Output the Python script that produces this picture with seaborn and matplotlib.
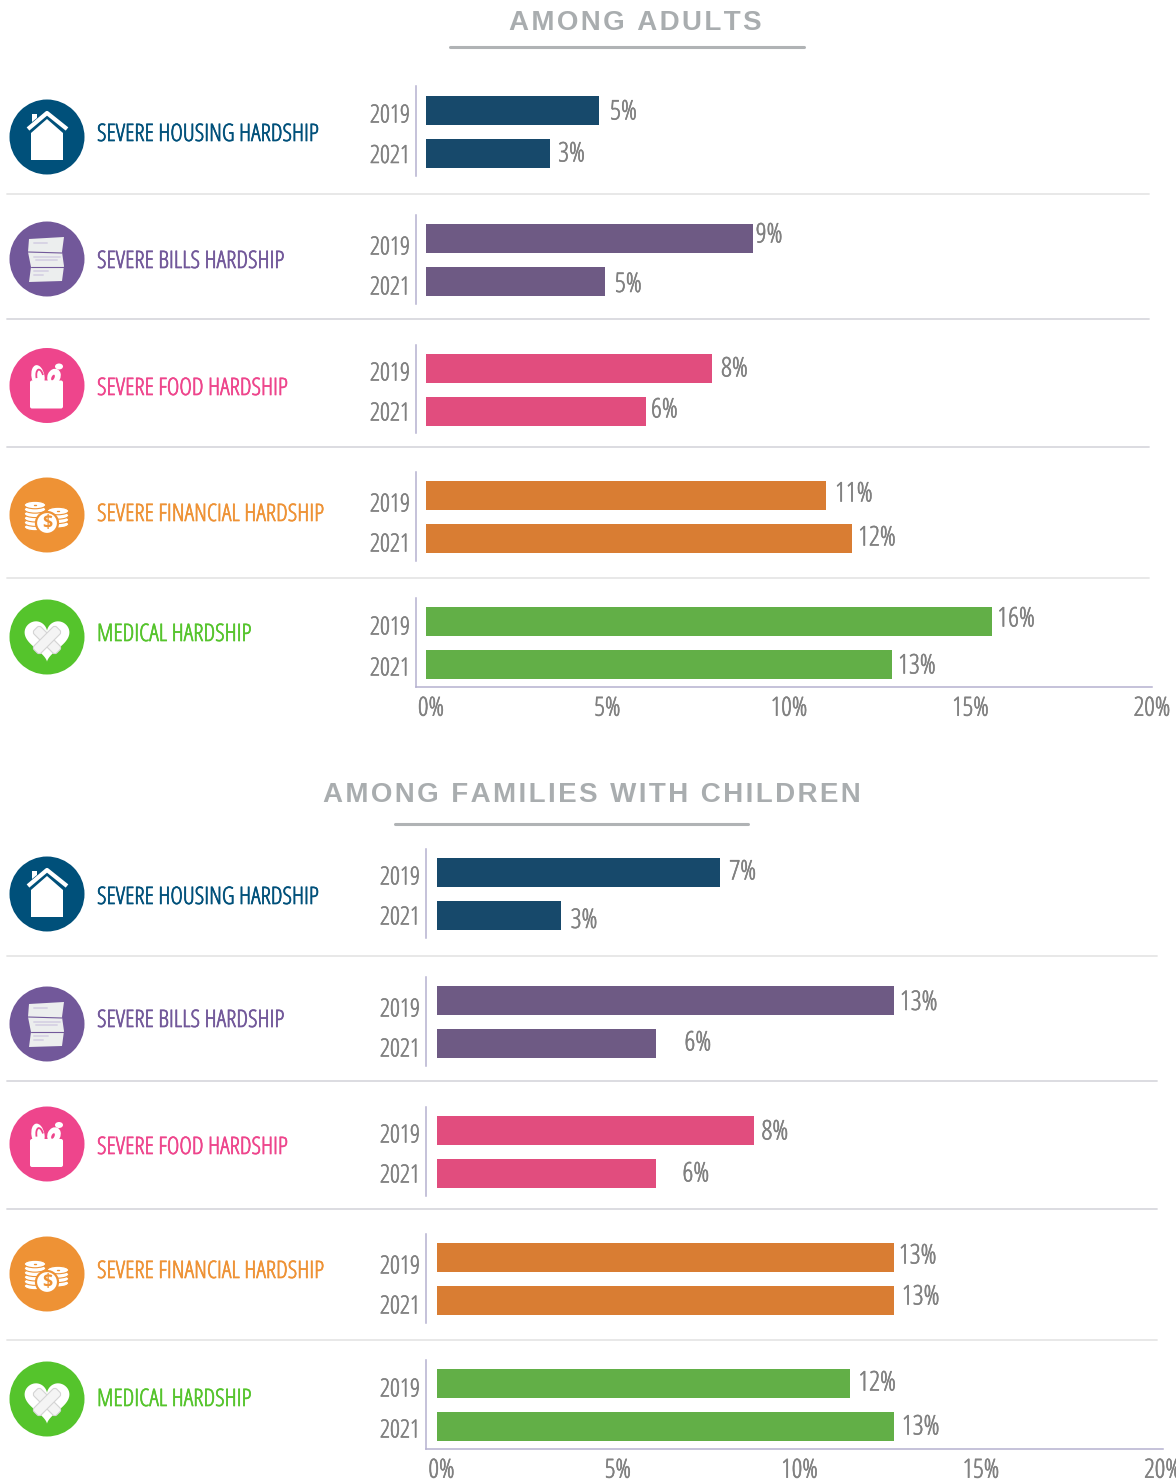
import numpy as np
import pandas as pd
import matplotlib
matplotlib.use('Agg')
import matplotlib.pyplot as plt
import matplotlib.patheffects as pe
import seaborn as sns
from matplotlib.patches import Circle, Polygon, Ellipse, FancyBboxPatch, Arc
from matplotlib.transforms import Affine2D, ScaledTranslation

# DATA
hardships = ['SEVERE HOUSING HARDSHIP', 'SEVERE BILLS HARDSHIP', 'SEVERE FOOD HARDSHIP',
             'SEVERE FINANCIAL HARDSHIP', 'MEDICAL HARDSHIP']
years = ['2019', '2021']
ticks = [0, 5, 10, 15, 20]
adults_2019 = [4.77, 9.0, 7.88, 11.02, 15.6]
adults_2021 = [3.42, 4.93, 6.06, 11.74, 12.84]
families_2019 = [7.82, 12.6, 8.76, 12.6, 11.4]
families_2021 = [3.42, 6.06, 6.06, 12.6, 12.6]
adults_labels_2019 = ['5%', '9%', '8%', '11%', '16%']
adults_labels_2021 = ['3%', '5%', '6%', '12%', '13%']
families_labels_2019 = ['7%', '13%', '8%', '13%', '12%']
families_labels_2021 = ['3%', '6%', '6%', '13%', '13%']

sns.set_theme(style='white')
plt.rcParams['font.family'] = ['Open Sans', 'DejaVu Sans']
plt.rcParams['font.stretch'] = 'condensed'

W, H = 1176, 1483
fig = plt.figure(figsize=(W / 100, H / 100), dpi=100)

# background layer in pixel coordinates, for rules and icons
bg = fig.add_axes([0, 0, 1, 1])
bg.set_xlim(0, W)
bg.set_ylim(H, 0)
bg.axis('off')

BAR_COLORS = ['#17496b', '#6e5a84', '#e14d7e', '#d97d33', '#62af47']
ICON_COLORS = ['#00507a', '#72589a', '#ee458c', '#ee9235', '#55c42c']
LABEL_GRAY = '#808080'
AXIS_COLOR = '#b5b1d0'
PX_PER_PCT = 36.3
THICKER = [pe.withStroke(linewidth=0.4, foreground=LABEL_GRAY)]


def draw_icon(kind, cx, cy, color):
    bg.add_patch(Circle((cx, cy), 37.5, color=color, lw=0))
    w = '#ffffff'
    if kind == 0:
        bg.add_patch(Polygon([(cx - 16, cy + 23), (cx + 16, cy + 23), (cx + 16, cy - 4), (cx, cy - 18), (cx - 16, cy - 4)], color=w, lw=0))
        bg.plot([cx - 19, cx, cx + 20], [cy - 8, cy - 24, cy - 8], color=w, lw=3, solid_capstyle='butt')
        bg.add_patch(Polygon([(cx - 15, cy - 23), (cx - 10, cy - 23), (cx - 10, cy - 19), (cx - 15, cy - 15)], color=w, lw=0))
    elif kind == 1:
        bg.add_patch(Polygon([(cx - 18, cy - 20), (cx + 17, cy - 22), (cx + 15, cy - 7), (cx + 17, cy + 7),
                              (cx + 15, cy + 22), (cx - 18, cy + 23), (cx - 16, cy + 8), (cx - 19, cy - 7)],
                             color='#eceeee', lw=0))
        bg.plot([cx - 19, cx + 15], [cy - 7, cy - 6], color=color, lw=0.8)
        bg.plot([cx - 16, cx + 17], [cy + 8, cy + 8], color=color, lw=0.8)
        for x0, x1, y in [(-13, 0, -16), (-13, 13, -2), (-11, 10, 1), (-13, 1, 12), (-13, -4, 16)]:
            bg.plot([cx + x0, cx + x1], [cy + y, cy + y], color='#d8d4e4', lw=1.4)
    elif kind == 2:
        bg.add_patch(FancyBboxPatch((cx - 17, cy - 5), 33, 28, boxstyle='round,pad=0,rounding_size=2', color=w, lw=0))
        bg.add_patch(Ellipse((cx - 9, cy - 9), 13, 23, angle=-10, color=w, lw=0))
        bg.add_patch(Arc((cx - 7, cy - 8), 7, 16, angle=-10, theta1=180, theta2=330, color=color, lw=1.3))
        bg.add_patch(Ellipse((cx + 7, cy - 9), 13, 16, angle=25, color=w, lw=0))
        bg.add_patch(Ellipse((cx + 6, cy - 8), 3, 6, angle=25, color=color, lw=0))
        bg.add_patch(Ellipse((cx + 12, cy - 19), 8, 6, color=w, lw=0))
    elif kind == 3:
        for bx, ytop, n in [(cx + 11, cy - 4, 4), (cx - 12, cy - 10, 6)]:
            for i in range(n)[::-1]:
                bg.add_patch(Ellipse((bx, ytop + i * 4.4), 21.5, 7.5, fc=w, ec=color, lw=0.8))
            bg.plot([bx - 1, bx + 1], [ytop, ytop], color=color, lw=1)
        bg.add_patch(Circle((cx, cy + 8), 11, fc=w, ec=color, lw=1.6))
        bg.text(cx, cy + 8, '$', color=color, ha='center', va='center', fontsize=13, fontweight='bold')
    else:
        t = np.linspace(0, 2 * np.pi, 100)
        hx = 16 * np.sin(t) ** 3
        hy = 13 * np.cos(t) - 5 * np.cos(2 * t) - 2 * np.cos(3 * t) - np.cos(4 * t)
        bg.add_patch(Polygon(np.c_[cx + hx * 1.4, cy - hy * 1.4 + 1], color=w, lw=0))
        for ang in (45, -45):
            tr = Affine2D().rotate_deg_around(cx, cy + 3, ang) + bg.transData
            bg.add_patch(FancyBboxPatch((cx - 16, cy - 2), 32, 10, boxstyle='round,pad=0,rounding_size=3',
                                        fc='#f4f4f4', ec='#d4d4d4', lw=0.8, transform=tr))


def draw_group(title, title_x, title_y, rule, seps, sep_end, vals19, vals21, labs19, labs21,
               icon_y, name_y, spans, bars_y, year_dy, gaps, label_dy, spine_x, zero_x, year_pad):
    bg.text(title_x, title_y, '\u200a'.join(title), ha='center', va='center', color='#a9adaf', fontsize=20,
            fontweight='bold', family=['Liberation Sans', 'DejaVu Sans'], stretch='normal')
    bg.plot(rule[:2], [rule[2], rule[2]], color='#b0b3b5', lw=2.2)
    for i, y in enumerate(seps):
        bg.plot([7, sep_end], [y, y], color='#e6e6e6' if i % 3 == 0 else '#d9d9de', lw=1.3)

    xmax_px = zero_x + 20 * PX_PER_PCT
    for i, name in enumerate(hardships):
        draw_icon(i, 47, icon_y[i], ICON_COLORS[i])
        bg.text(97, name_y[i], name, color=ICON_COLORS[i], fontsize=17.3, va='center', ha='left',
                path_effects=[pe.withStroke(linewidth=0.5, foreground=ICON_COLORS[i])])

        top, bottom = spans[i]
        ax = fig.add_axes([spine_x / W, 1 - bottom / H, (xmax_px - spine_x) / W, (bottom - top) / H])
        df = pd.DataFrame({'year': years, 'pct': [vals19[i], vals21[i]]})
        sns.barplot(data=df, x='pct', y='year', color=BAR_COLORS[i], saturation=1, width=29 / 43,
                    linewidth=0, ax=ax)
        ax.patch.set_alpha(0)
        ax.set_ylim((bottom - bars_y[i]) / 43, (top - bars_y[i]) / 43)
        ax.set_xlim(-(zero_x - spine_x) / PX_PER_PCT, 20)
        sns.despine(ax=ax, top=True, right=True, bottom=i != 4)
        for s in ax.spines.values():
            s.set_color(AXIS_COLOR)
            s.set_linewidth(1.1)
        ax.set_xlabel('')
        ax.set_ylabel('')
        ax.set_yticks([year_dy[i][0] / 43, 1 + year_dy[i][1] / 43], years)
        ax.tick_params(axis='y', length=0, pad=year_pad, labelcolor=LABEL_GRAY, labelsize=18)
        if i == 4:
            ax.set_xticks(ticks, [f'{t}%' for t in ticks])
            ax.tick_params(axis='x', length=0, pad=7, labelcolor=LABEL_GRAY, labelsize=19)
            first = ax.get_xticklabels()[0]
            first.set_transform(first.get_transform() + ScaledTranslation(5 / 100, 0, fig.dpi_scale_trans))
        else:
            ax.set_xticks([])
        for lab in ax.get_xticklabels() + ax.get_yticklabels():
            lab.set_path_effects(THICKER)
        for j, (bar, lab) in enumerate(zip(ax.patches, [labs19[i], labs21[i]])):
            ax.annotate(lab, (bar.get_width(), bar.get_y() + bar.get_height() / 2),
                        xytext=(gaps[i][j], -label_dy[i][j] - 2), textcoords='offset pixels',
                        color=LABEL_GRAY, fontsize=19.5, va='center', ha='left', path_effects=THICKER)


draw_group('AMONG ADULTS', 635, 23, (450, 804, 47), [194, 319, 447, 578], 1149,
           adults_2019, adults_2021, adults_labels_2019, adults_labels_2021,
           [137, 259, 385.5, 515, 637], [135, 262, 389, 515, 635],
           [(86, 176), (215, 304), (345, 433), (472, 561), (598, 687)],
           [110.5, 238.5, 368.5, 495.5, 621.5],
           [(2.5, 0), (6.5, 3.5), (2.5, -0.5), (6.5, 3.5), (3.5, 1.5)],
           [(11, 8), (3, 10), (9, 5), (9, 6), (5, 6)],
           [(0, -1), (-5, 1.5), (-1, -3), (-3, -2), (-4, 0)],
           415.5, 426, 4)

draw_group('AMONG FAMILIES WITH CHILDREN', 592, 795, (395, 748, 824), [956, 1081, 1209, 1340], 1157,
           families_2019, families_2021, families_labels_2019, families_labels_2021,
           [894, 1024, 1144, 1274, 1399], [898, 1021, 1148, 1272, 1400],
           [(849, 938), (977, 1066), (1107, 1196), (1234, 1323), (1360, 1449)],
           [872.5, 1000.5, 1130.5, 1257.5, 1383.5],
           [(2.5, -0.5), (6.5, 3.5), (2.5, -0.5), (6.5, 3.5), (3.5, 1.5)],
           [(9, 10), (6, 28), (7, 26), (5, 8), (8, 8)],
           [(-2, 3.5), (0.5, -2), (0, -1), (-3, -5), (-2, -1)],
           425.5, 436.5, 4)

plt.savefig('out.png', dpi=100)
